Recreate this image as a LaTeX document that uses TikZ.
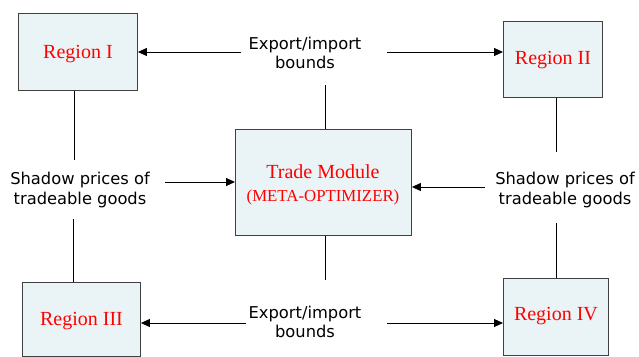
\documentclass[tikz,border=0pt]{standalone}
\usepackage{fontspec}
\setmainfont{Liberation Serif}
\newfontfamily\labfont{DejaVu Sans}
\usetikzlibrary{arrows.meta}
\definecolor{boxfill}{HTML}{EAF3F5}
\definecolor{regred}{HTML}{FF0000}
\tikzset{
  regbox/.style={draw=black!75, line width=0.9pt, fill=boxfill, inner sep=0pt, anchor=north west},
  regtext/.style={text=regred, font=\fontsize{20}{24}\selectfont},
  lab/.style={font=\labfont\fontsize{16.3}{19.5}\selectfont, align=center, inner sep=0pt},
  conn/.style={line width=1pt, black},
  arr/.style={conn, -{Triangle[length=9pt,width=8pt]}}
}
\begin{document}
\begin{tikzpicture}[x=1pt,y=-1pt]
\useasboundingbox (0,0) rectangle (639,356);
% boxes
\node[regbox, minimum width=119pt, minimum height=77pt] (r1) at (18,13) {};
\node[regtext] at ([yshift=-2pt]r1.center) {Region I};
\node[regbox, minimum width=99pt, minimum height=76pt] (r2) at (503,21) {};
\node[regtext] at ([yshift=-1pt]r2.center) {Region II};
\node[regbox, minimum width=118pt, minimum height=74pt] (r3) at (22,282) {};
\node[regtext] at ([yshift=-2pt]r3.center) {Region III};
\node[regbox, minimum width=105pt, minimum height=77pt] (r4) at (503,278) {};
\node[regtext] at ([yshift=1pt]r4.center) {Region IV};
\node[regbox, minimum width=176pt, minimum height=106pt] (tm) at (235,129) {};
\node[regtext] (tmt) at (323,172) {Trade Module};
\node[text=regred, font=\fontsize{16.8}{20}\selectfont] (tmo) at (323,197) {(META-OPTIMIZER)};
% labels
\node[lab] (et) at (305,53) {Export/import\\bounds};
\node[lab] (eb) at (305,322) {Export/import\\bounds};
\node[lab] (sl) at (80,190) {Shadow prices of\\tradeable goods};
\node[lab] (sr) at (565,190) {Shadow prices of\\tradeable goods};
% coordinates
\coordinate (a1) at (241,52);
\coordinate (a2) at (387,52);
\coordinate (a3) at (246,323);
\coordinate (a4) at (387,323);
\coordinate (v1) at (325,85);
\coordinate (v2) at (325,280);
\coordinate (l1) at (74,160);
\coordinate (l2) at (73,219);
\coordinate (l3) at (165,182);
\coordinate (r1b) at (556,152);
\coordinate (r2b) at (556,223);
\coordinate (r3b) at (485,187);
% connectors
\draw[arr] (a1) -- (a1 -| r1.east);
\draw[arr] (a2) -- (a2 -| r2.west);
\draw[arr] (a3) -- (a3 -| r3.east);
\draw[arr] (a4) -- (a4 -| r4.west);
\draw[conn] (v1) -- (v1 |- tm.north);
\draw[conn] (v2) -- (v2 |- tm.south);
\draw[conn] (l1 |- r1.south) -- (l1);
\draw[conn] (l2) -- (l2 |- r3.north);
\draw[arr] (l3) -- (l3 -| tm.west);
\draw[conn] (r1b |- r2.south) -- (r1b);
\draw[conn] (r2b) -- (r2b |- r4.north);
\draw[arr] (r3b) -- (r3b -| tm.east);
\end{tikzpicture}
\end{document}
